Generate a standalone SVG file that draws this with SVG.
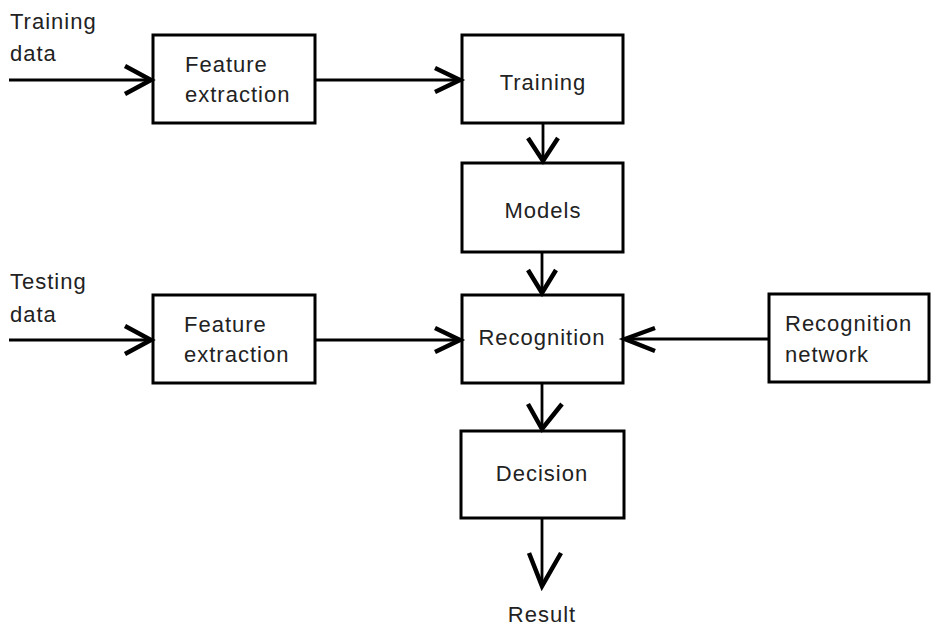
<svg xmlns="http://www.w3.org/2000/svg" width="931" height="628" viewBox="0 0 931 628">
<style>
.box{fill:#fff;stroke:#000;stroke-width:3}
.ln{fill:none;stroke:#000;stroke-width:2.8}
.hd{fill:none;stroke:#000;stroke-width:4.5;stroke-linecap:butt;stroke-linejoin:miter}
text{font-family:"Liberation Sans",Arial,sans-serif;font-size:22px;fill:#222;letter-spacing:1px}
.c{text-anchor:middle}
</style>
<rect width="931" height="628" fill="#fff"/>
<g id="labels">
<text x="10" y="29">Training</text>
<text x="10" y="61">data</text>
<text x="10" y="289">Testing</text>
<text x="10" y="322">data</text>
<text class="c" x="542" y="622">Result</text>
</g>
<g id="fe1">
<rect class="box" x="153" y="35" width="162" height="88"/>
<text x="185" y="72">Feature</text>
<text x="185" y="102">extraction</text>
</g>
<g id="training">
<rect class="box" x="462" y="35" width="161" height="88"/>
<text class="c" x="543" y="90">Training</text>
</g>
<g id="models">
<rect class="box" x="462" y="163" width="161" height="89"/>
<text class="c" x="543" y="218">Models</text>
</g>
<g id="fe2">
<rect class="box" x="153" y="295" width="162" height="88"/>
<text x="184" y="332">Feature</text>
<text x="184" y="362">extraction</text>
</g>
<g id="recognition">
<rect class="box" x="462" y="295" width="161" height="88"/>
<text class="c" x="542" y="345">Recognition</text>
</g>
<g id="recnet">
<rect class="box" x="769" y="294" width="160" height="88"/>
<text x="785" y="331">Recognition</text>
<text x="785" y="362">network</text>
</g>
<g id="decision">
<rect class="box" x="461" y="431" width="163" height="87"/>
<text class="c" x="542" y="481">Decision</text>
</g>
<g id="connectors">
<line class="ln" x1="9" y1="80" x2="152" y2="80"/>
<polyline class="hd" points="125,66 151,80 125,94"/>
<line class="ln" x1="315" y1="80" x2="461" y2="80"/>
<polyline class="hd" points="435,68 460,80 435,92"/>
<line class="ln" x1="543" y1="123" x2="543" y2="162"/>
<polyline class="hd" points="528,138 543,161 558,138"/>
<line class="ln" x1="542" y1="252" x2="542" y2="294"/>
<polyline class="hd" points="528,270 542,293 556,270"/>
<line class="ln" x1="9" y1="340" x2="152" y2="340"/>
<polyline class="hd" points="125,326 151,340 125,354"/>
<line class="ln" x1="315" y1="340" x2="461" y2="340"/>
<polyline class="hd" points="435,328 460,340 435,352"/>
<line class="ln" x1="769" y1="339" x2="624" y2="339"/>
<polyline class="hd" points="655,328 625,339 655,351"/>
<line class="ln" x1="542" y1="383" x2="542" y2="430"/>
<polyline class="hd" points="528,404 542,429 562,404"/>
<line class="ln" x1="542" y1="518" x2="542" y2="586"/>
<polyline class="hd" points="529,553 542,586 561,553"/>
</g>
</svg>
